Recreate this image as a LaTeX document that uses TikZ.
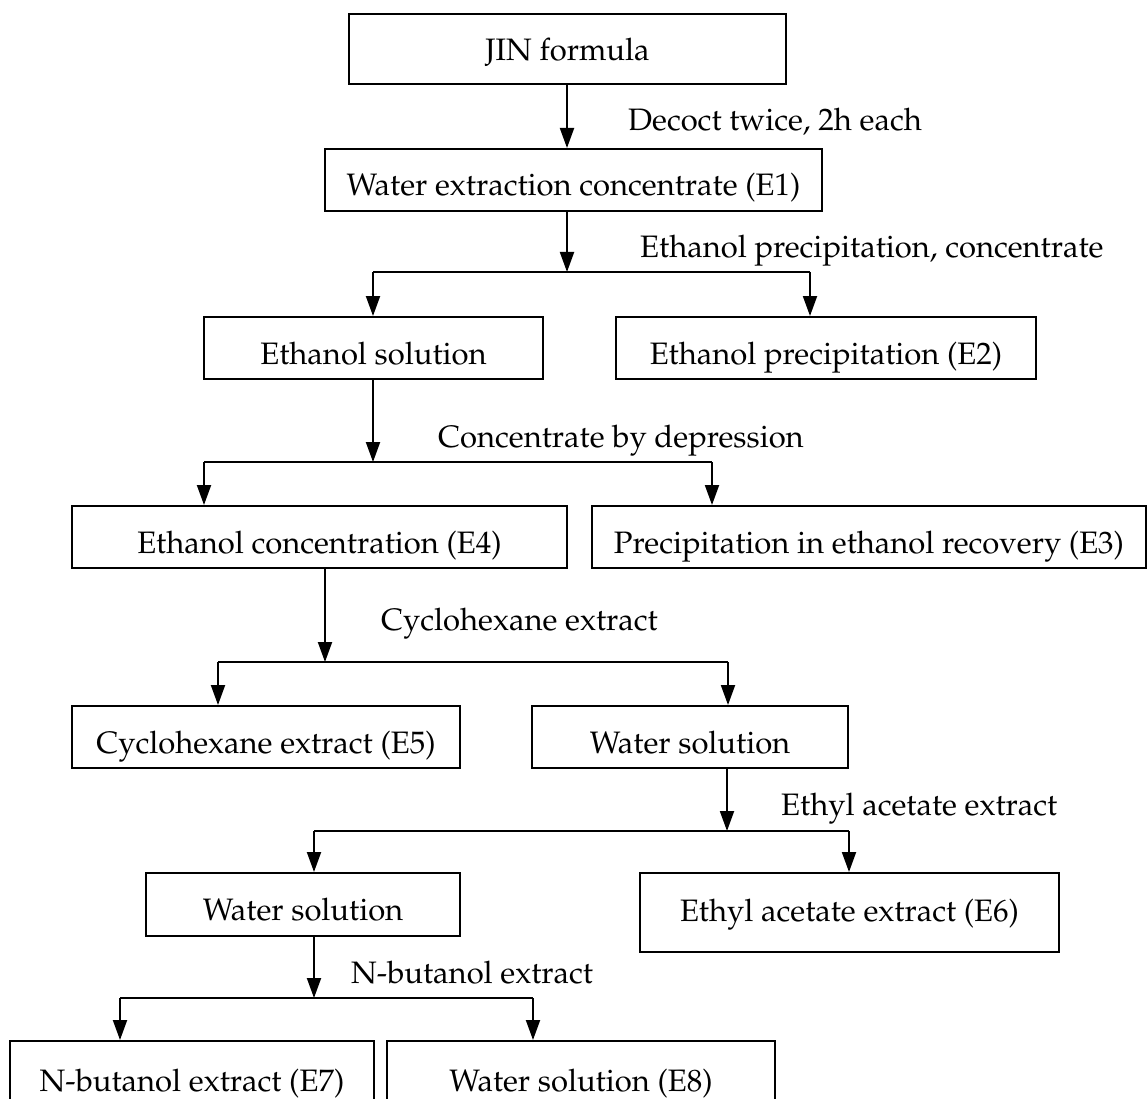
\documentclass[tikz,border=0pt]{standalone}
\usepackage[T1]{fontenc}
\usepackage{mathpazo}
\usetikzlibrary{arrows.meta}
\newcommand{\fs}{\fontsize{31}{34}\selectfont}
\begin{document}
\begin{tikzpicture}[x=1pt,y=-1pt,
  box/.style={draw, line width=2pt, rectangle, inner sep=0pt},
  btxt/.style={anchor=base, inner sep=0pt, font=\fs},
  lbl/.style={anchor=base west, inner sep=0pt, font=\fs},
  conn/.style={line width=2pt},
  arr/.style={line width=2pt, -{Triangle[length=20pt,width=14pt]}}]
\useasboundingbox (0,0) rectangle (1148,1099);
\clip (0,0) rectangle (1148,1099);
% boxes
\node[box, minimum width=437pt, minimum height=70pt] (jin) at (567.5,49) {};
\node[box, minimum width=497pt, minimum height=62pt] (e1) at (573.5,180) {};
\node[box, minimum width=339pt, minimum height=62pt] (es) at (373.5,348) {};
\node[box, minimum width=420pt, minimum height=62pt] (e2) at (826,348) {};
\node[box, minimum width=495pt, minimum height=62pt] (e4) at (319.5,537) {};
\node[box, minimum width=554pt, minimum height=62pt] (e3) at (869,537) {};
\node[box, minimum width=388pt, minimum height=62pt] (e5) at (266,737) {};
\node[box, minimum width=316pt, minimum height=62pt] (ws1) at (690,737) {};
\node[box, minimum width=314pt, minimum height=63pt] (ws2) at (303,904.5) {};
\node[box, minimum width=419pt, minimum height=79pt] (e6) at (849.5,912.5) {};
\node[box, minimum width=364pt, minimum height=79pt] (e7) at (192,1080.5) {};
\node[box, minimum width=388pt, minimum height=79pt] (e8) at (581,1080.5) {};
% box texts
\node[btxt] (jint) at ([yshift=-48pt]jin.north) {JIN formula};
\node[btxt] (e1t) at ([yshift=-48pt]e1.north) {Water extraction concentrate (E1)};
\node[btxt] (est) at ([yshift=-48pt]es.north) {Ethanol solution};
\node[btxt] (e2t) at ([yshift=-48pt]e2.north) {Ethanol precipitation (E2)};
\node[btxt] (e4t) at ([yshift=-48pt]e4.north) {Ethanol concentration (E4)};
\node[btxt] (e3t) at ([yshift=-48pt]e3.north) {Precipitation in ethanol recovery (E3)};
\node[btxt] (e5t) at ([yshift=-48pt]e5.north) {Cyclohexane extract (E5)};
\node[btxt] (ws1t) at ([yshift=-48pt]ws1.north) {Water solution};
\node[btxt] (ws2t) at ([yshift=-48pt]ws2.north) {Water solution};
\node[btxt] (e6t) at ([yshift=-49pt]e6.north) {Ethyl acetate extract (E6)};
\node[btxt] (e7t) at ([yshift=-51pt]e7.north) {N-butanol extract (E7)};
\node[btxt] (e8t) at ([yshift=-51pt]e8.north) {Water solution (E8)};
% labels
\node[lbl] (l1) at (628,131) {Decoct twice, 2h each};
\node[lbl] (l2) at (640,258) {Ethanol precipitation, concentrate};
\node[lbl] (l3) at (438,447) {Concentrate by depression};
\node[lbl] (l4) at (381,630) {Cyclohexane extract};
\node[lbl] (l5) at (781,815) {Ethyl acetate extract};
\node[lbl] (l6) at (351,983) {N-butanol extract};
% junction coordinates
\coordinate (j1) at (567,272);
\coordinate (j1l) at (373,272);
\coordinate (j1r) at (810,272);
\coordinate (j2) at (373,462);
\coordinate (j2l) at (204,462);
\coordinate (j2r) at (712,462);
\coordinate (j3) at (325,662);
\coordinate (j3l) at (218,662);
\coordinate (j3r) at (728,662);
\coordinate (j4) at (727,831);
\coordinate (j4l) at (314,831);
\coordinate (j4r) at (849,831);
\coordinate (j5) at (314,998);
\coordinate (j5l) at (120,998);
\coordinate (j5r) at (533,998);
% connectors
\draw[arr] (jin.south -| j1) -- (e1.north -| j1);
\draw[arr] (e1.south -| j1) -- (j1);
\draw[conn] (j1l) -- (j1r);
\draw[arr] (j1l) -- (es.north -| j1l);
\draw[arr] (j1r) -- (e2.north -| j1r);
\draw[arr] (es.south -| j2) -- (j2);
\draw[conn] (j2l) -- (j2r);
\draw[arr] (j2l) -- (e4.north -| j2l);
\draw[arr] (j2r) -- (e3.north -| j2r);
\draw[arr] (e4.south -| j3) -- (j3);
\draw[conn] (j3l) -- (j3r);
\draw[arr] (j3l) -- (e5.north -| j3l);
\draw[arr] (j3r) -- (ws1.north -| j3r);
\draw[arr] (ws1.south -| j4) -- (j4);
\draw[conn] (j4l) -- (j4r);
\draw[arr] (j4l) -- (ws2.north -| j4l);
\draw[arr] (j4r) -- (e6.north -| j4r);
\draw[arr] (ws2.south -| j5) -- (j5);
\draw[conn] (j5l) -- (j5r);
\draw[arr] (j5l) -- (e7.north -| j5l);
\draw[arr] (j5r) -- (e8.north -| j5r);
\end{tikzpicture}
\end{document}
